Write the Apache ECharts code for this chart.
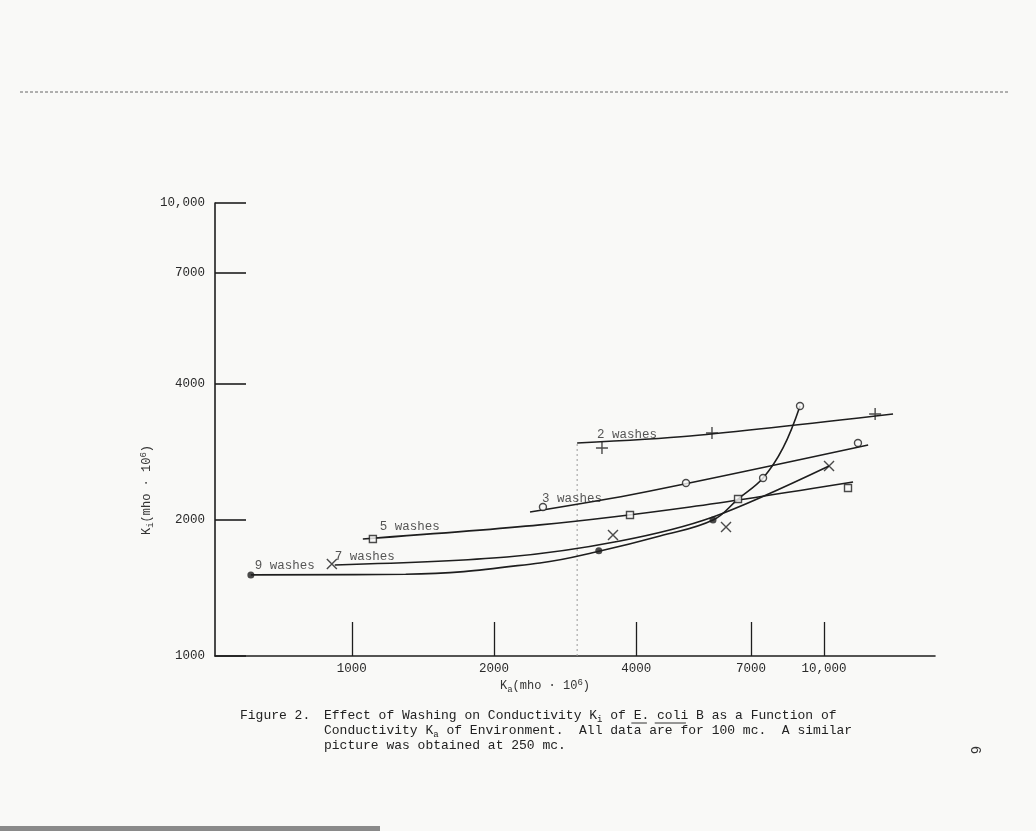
<!DOCTYPE html>
<html><head><meta charset="utf-8">
<script src="https://cdn.jsdelivr.net/npm/echarts@6/dist/echarts.min.js"></script>
<style>html,body{margin:0;padding:0;background:#f9f9f7;} #c{width:1036px;height:831px;}</style>
</head><body><div id="c"></div>
<script>
// ---- data ----
const xTicks = [1000, 2000, 4000, 7000, 10000];
const xTickLabels = ['1000', '2000', '4000', '7000', '10,000'];
const yTicks = [1000, 2000, 4000, 7000, 10000];
const yTickLabels = ['1000', '2000', '4000', '7000', '10,000'];
const xRange = [513, 17180];
const yRange = [1000, 10000];

// fitted curves (hand-drawn lines in the figure)
const wash2Curve = [[3000, 2953], [5202, 3059], [14000, 3421]];
const wash3Curve = [[2384, 2079], [4076, 2290], [12400, 2923]];
const wash5Curve = [[1055, 1813], [2502, 1947], [5202, 2133], [11520, 2422]];
const wash7Curve = [[920, 1588], [2130, 1654], [3697, 1794], [5819, 2027], [10247, 2627]];
const wash9Curve = [[611, 1510], [1300, 1515], [2502, 1605], [3353, 1705], [4493, 1840], [5819, 1996], [6574, 2221], [7428, 2472], [8187, 2879], [8895, 3564]];

// measured points (markers)
const wash2Points = [[3386, 2879], [5790, 3107], [12830, 3421]];
const wash3Points = [[2539, 2133], [5101, 2410], [7428, 2472], [11800, 2953]];
const wash5Points = [[1108, 1813], [3882, 2048], [6574, 2221], [11240, 2349]];
const wash7Points = [[907, 1596], [3573, 1849], [6200, 1927], [10247, 2627]];
const wash9Points = [[611, 1510], [3334, 1707], [5819, 1996]];
const wash9TopPoint = [[8895, 3564]];

// curve labels
const seriesNames = ['9 washes', '7 washes', '5 washes', '3 washes', '2 washes'];
const labelAnchors = [[623, 1580], [920, 1654], [1146, 1927], [2527, 2221], [3304, 3075]];

// dotted reference line at Ka = 3000
const dividerX = 3000;
const dividerY = [1000, 2953];

// ---- chart ----
const INK = '#1e1e1e';
const BG = '#f9f9f7';
const MONO = '"Liberation Mono", "DejaVu Sans Mono", monospace';
const chart = echarts.init(document.getElementById('c'), null, {renderer: 'canvas'});

function curve(name, data, s) {
  return {
    name: name, type: 'line', data: data, showSymbol: false, smooth: s,
    silent: true, z: 3,
    lineStyle: {color: INK, width: 1.6}
  };
}
function markers(data, symbol, size, mode) {
  let style;
  if (mode === 'fill') style = {color: INK};
  else if (mode === 'hollow') style = {color: BG, borderColor: INK, borderWidth: 1.4};
  else style = {color: 'none', borderColor: INK, borderWidth: 1.4};
  return {type: 'scatter', data: data, symbol: symbol, symbolSize: size, silent: true, z: 4, itemStyle: style};
}
const XSYM = 'path://M0,0 L10,10 M10,0 L0,10';
const PLUSSYM = 'path://M5,0 L5,10 M0,5 L10,5';

const option = {
  backgroundColor: BG,
  animation: false,
  grid: {left: 215, right: 101, top: 203, bottom: 175, containLabel: false},
  xAxis: {
    type: 'log', logBase: 10, min: xRange[0], max: xRange[1],
    axisLine: {lineStyle: {color: INK, width: 1.6}},
    axisTick: {show: true, inside: true, length: 34, customValues: xTicks, lineStyle: {color: INK, width: 1.3}},
    minorTick: {show: false},
    splitLine: {show: false},
    axisLabel: {customValues: xTicks, margin: 6, color: '#2a2a2a', fontFamily: MONO, fontSize: 12.5,
      formatter: v => { const i = xTicks.findIndex(t => Math.abs(t - v) < 1e-6 * t); return i >= 0 ? xTickLabels[i] : ''; }}
  },
  yAxis: {
    type: 'log', logBase: 10, min: yRange[0], max: yRange[1],
    axisLine: {lineStyle: {color: INK, width: 1.6}},
    axisTick: {show: true, inside: true, length: 31, customValues: yTicks, lineStyle: {color: INK, width: 1.6}},
    minorTick: {show: false},
    splitLine: {show: false},
    axisLabel: {customValues: yTicks, margin: 10, color: '#2a2a2a', fontFamily: MONO, fontSize: 12.5,
      formatter: v => { const i = yTicks.findIndex(t => Math.abs(t - v) < 1e-6 * t); return i >= 0 ? yTickLabels[i] : ''; }}
  },
  series: [
    {type: 'line', data: [[dividerX, dividerY[0]], [dividerX, dividerY[1]]], showSymbol: false, silent: true, z: 1,
     lineStyle: {color: '#9a9a9a', width: 1, type: [2, 3]}},
    curve('2 washes', wash2Curve, 0.3),
    curve('3 washes', wash3Curve, 0.3),
    curve('5 washes', wash5Curve, 0.3),
    curve('7 washes', wash7Curve, 0.3),
    curve('9 washes', wash9Curve, 0.4),
    markers(wash2Points, PLUSSYM, 12, 'stroke'),
    markers(wash3Points, 'circle', 7, 'hollow'),
    markers(wash5Points, 'rect', 7, 'hollow'),
    markers(wash7Points, XSYM, 10, 'stroke'),
    markers(wash9Points, 'circle', 7, 'fill'),
    markers(wash9TopPoint, 'circle', 7, 'hollow'),
    {
      type: 'scatter', symbolSize: 0, silent: true, z: 5,
      data: labelAnchors.map((p, i) => ({value: p, name: seriesNames[i]})),
      label: {show: true, position: 'right', distance: 0, formatter: p => p.name,
        color: '#2a2a2a', fontFamily: MONO, fontSize: 12.5}
    }
  ],
  graphic: [
    {type: 'text', x: 147, y: 490, rotation: Math.PI / 2, z: 10,
     style: {text: 'K{s|i}(mho · 10{p|6})', fill: '#333', font: '12px ' + MONO, align: 'center', verticalAlign: 'middle',
       rich: {s: {fontSize: 9, fontFamily: MONO, fill: '#333', padding: [8, 0, 0, 0]}, p: {fontSize: 9, fontFamily: MONO, fill: '#333', padding: [0, 0, 6, 0]}}}},
    {type: 'text', x: 545, y: 686, z: 10,
     style: {text: 'K{s|a}(mho · 10{p|6})', fill: '#333', font: '12px ' + MONO, align: 'center', verticalAlign: 'middle',
       rich: {s: {fontSize: 9, fontFamily: MONO, fill: '#333', padding: [8, 0, 0, 0]}, p: {fontSize: 9, fontFamily: MONO, fill: '#333', padding: [0, 0, 6, 0]}}}},
    {type: 'text', x: 240, y: 716, z: 10,
     style: {text: 'Figure 2.', fill: '#222', font: '13px ' + MONO, verticalAlign: 'middle'}},
    {type: 'text', x: 324, y: 716, z: 10,
     style: {text: 'Effect of Washing on Conductivity K{s|i} of E. coli B as a Function of', fill: '#222', font: '13px ' + MONO, verticalAlign: 'middle',
       rich: {s: {fontSize: 9, fontFamily: MONO, fill: '#222', padding: [7, 0, 0, 0]}}}},
    {type: 'text', x: 324, y: 731, z: 10,
     style: {text: 'Conductivity K{s|a} of Environment.  All data are for 100 mc.  A similar', fill: '#222', font: '13px ' + MONO, verticalAlign: 'middle',
       rich: {s: {fontSize: 9, fontFamily: MONO, fill: '#222', padding: [7, 0, 0, 0]}}}},
    {type: 'text', x: 324, y: 746, z: 10,
     style: {text: 'picture was obtained at 250 mc.', fill: '#222', font: '13px ' + MONO, verticalAlign: 'middle'}},
    // underlines for E. coli
    {type: 'line', z: 10, shape: {x1: 324 + 39.4 * 7.8, y1: 723, x2: 324 + 41.4 * 7.8, y2: 723}, style: {stroke: '#333', lineWidth: 1}},
    {type: 'line', z: 10, shape: {x1: 324 + 42.4 * 7.8, y1: 723, x2: 324 + 46.4 * 7.8, y2: 723}, style: {stroke: '#333', lineWidth: 1}},
    // scan artefacts: page rule and page number
    {type: 'line', z: 0, shape: {x1: 20, y1: 92, x2: 1010, y2: 92}, style: {stroke: '#666', lineWidth: 1, lineDash: [3, 2]}},
    {type: 'text', x: 975, y: 750, rotation: -Math.PI / 2, z: 10,
     style: {text: '6', fill: '#333', font: '14px ' + MONO, align: 'center', verticalAlign: 'middle'}},
    {type: 'rect', z: 0, shape: {x: 0, y: 826, width: 380, height: 5}, style: {fill: '#8a8a8a'}}
  ]
};
chart.setOption(option);
</script>
</body></html>
